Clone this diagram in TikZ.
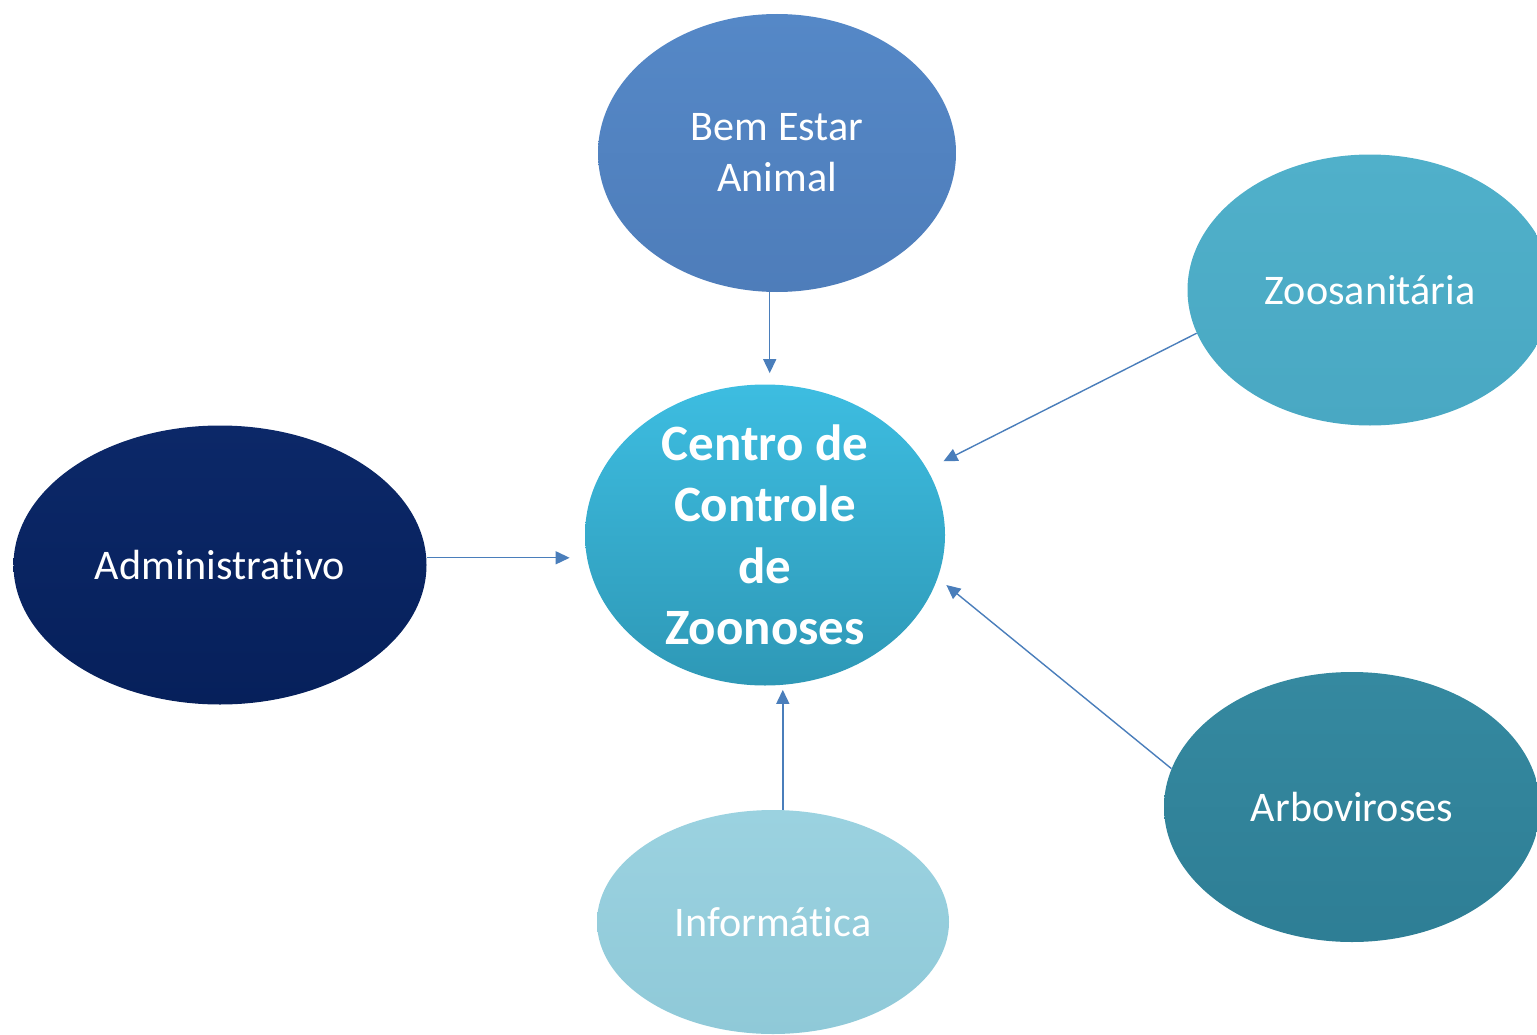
\documentclass[tikz,border=0pt]{standalone}
\usepackage{fontspec}
\setmainfont{Carlito}[Ligatures=NoCommon]
\usepackage{xcolor}
\usetikzlibrary{shapes,arrows.meta,positioning,calc}

\definecolor{bemTop}{HTML}{5588C7}
\definecolor{bemBot}{HTML}{4E7DBA}
\definecolor{zooTop}{HTML}{50B0CA}
\definecolor{zooBot}{HTML}{49A8C3}
\definecolor{ccTop}{HTML}{3DBDE1}
\definecolor{ccBot}{HTML}{2E98B6}
\definecolor{admTop}{HTML}{0C2868}
\definecolor{admBot}{HTML}{06205B}
\definecolor{arbTop}{HTML}{3589A0}
\definecolor{arbBot}{HTML}{2E7E95}
\definecolor{infTop}{HTML}{9BD2E0}
\definecolor{infBot}{HTML}{8FC9D8}
\definecolor{linkBlue}{HTML}{4A7EBB}

\tikzset{
  area/.style={ellipse, inner sep=0pt, text=white, align=center,
    font=\fontsize{24}{29}\selectfont},
  link/.style={-{Triangle[length=0.28cm, width=0.26cm]}, linkBlue, line width=0.8pt}
}

\begin{document}
\begin{tikzpicture}
    \useasboundingbox (0,0) rectangle (30.74,-20.7);

    % centre
    \node[area, top color=ccTop, bottom color=ccBot, minimum width=7.2cm, minimum height=6.02cm,
          inner ysep=-4pt, font=\bfseries\fontsize{29}{35}\selectfont] (centro) at (15.3,-10.7)
          {Centro de\\Controle\\de\\Zoonoses};

    % sectors
    \node[area, top color=bemTop, bottom color=bemBot, minimum width=7.16cm, minimum height=5.56cm]
          (bem) at (15.54,-3.06) {Bem Estar\\Animal};
    \node[area, top color=zooTop, bottom color=zooBot, minimum width=7.3cm, minimum height=5.42cm]
          (zoo) at (27.4,-5.8) {Zoosanitária};
    \node[area, top color=admTop, bottom color=admBot, minimum width=8.26cm, minimum height=5.58cm]
          (adm) at (4.4,-11.3) {Administrativo};
    \node[area, top color=arbTop, bottom color=arbBot, minimum width=7.52cm, minimum height=5.4cm]
          (arbo) at (27.04,-16.14) {Arboviroses};
    \node[area, top color=infTop, bottom color=infBot, minimum width=7.04cm, minimum height=4.48cm]
          (info) at (15.46,-18.44) {Informática};

    % links into the centre
    \draw[link, shorten >=0.22cm] (bem.267) -- (bem.267 |- centro.north);
    \draw[link, shorten >=0.36cm] (zoo.194) -- (centro.22);
    \draw[link, shorten >=0.3cm] (adm.2) -- (adm.2 -| centro.west);
    \draw[link, shorten >=0.22cm] (arbo.168) -- (centro.-14);
    \draw[link, shorten >=0.08cm] (info.85) -- (info.85 |- centro.south);
\end{tikzpicture}
\end{document}
